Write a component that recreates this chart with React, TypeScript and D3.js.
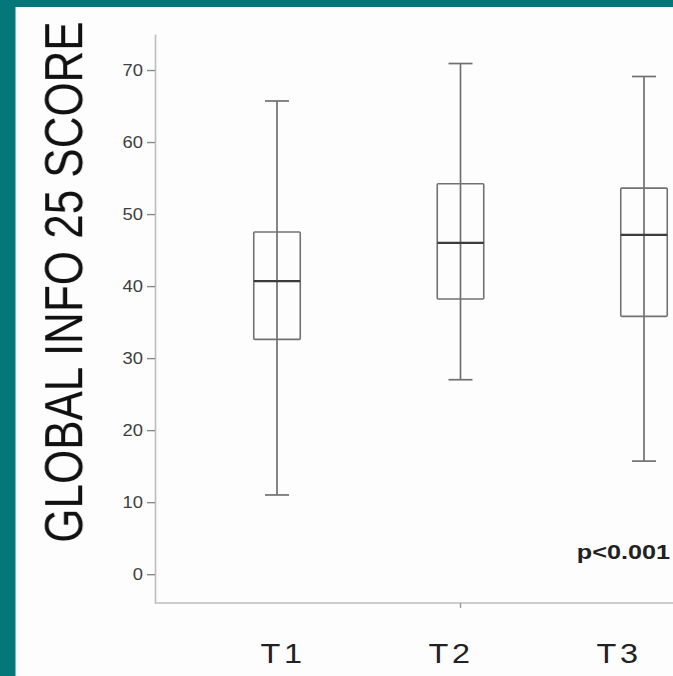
import React, { useEffect, useRef } from "react";
import { select, scaleLinear, scalePoint, axisLeft } from "d3";

const groups = ["T1", "T2", "T3"];
const mins = [11.0, 27.0, 15.7];
const q1s = [32.6, 38.2, 35.8];
const medians = [40.7, 46.0, 47.1];
const q3s = [47.5, 54.2, 53.6];
const maxs = [65.7, 70.9, 69.1];
const yTicks = [0, 10, 20, 30, 40, 50, 60, 70];

const W = 673;
const H = 676;

const App = () => {
  const svgRef = useRef<SVGSVGElement>(null);

  useEffect(() => {
    const svg = select(svgRef.current);
    svg.selectAll("*").remove();

    // teal frame + white panel
    svg.append("rect").attr("width", W).attr("height", H).attr("fill", "#03777a");
    svg.append("rect").attr("x", 15.5).attr("y", 7).attr("width", W).attr("height", H).attr("fill", "#fdfdfd");

    const yScale = scaleLinear().domain([-4, 75]).range([603, 34]);
    const xScale = scalePoint().domain(groups).range([277, 644]);
    const labelScale = scalePoint().domain(groups).range([283, 619]);
    const axisX = 155;

    const yAxis = axisLeft(yScale).tickValues(yTicks).tickSize(8).tickSizeOuter(0).tickPadding(4).tickFormat((d) => `${d}`);
    const gy = svg.append("g").attr("transform", `translate(${axisX},0)`).call(yAxis);
    gy.select(".domain").attr("stroke", "#bdbdbd").attr("stroke-width", 1.6);
    gy.selectAll(".tick line").attr("stroke", "#8a8a8a").attr("stroke-width", 1.4);
    gy.selectAll(".tick text")
      .attr("fill", "#3f3f3f")
      .attr("font-family", "Liberation Sans, Arial, sans-serif")
      .attr("font-size", 16)
      .attr("x", null)
      .attr("dy", "0.36em")
      .attr("transform", "translate(-12,0) scale(1.15,1)");

    // x axis line
    svg.append("line")
      .attr("x1", axisX).attr("x2", W)
      .attr("y1", yScale(-4)).attr("y2", yScale(-4))
      .attr("stroke", "#bdbdbd").attr("stroke-width", 1.6);
    svg.append("line")
      .attr("x1", xScale("T2")).attr("x2", xScale("T2"))
      .attr("y1", yScale(-4)).attr("y2", yScale(-4) + 5)
      .attr("stroke", "#999").attr("stroke-width", 1.4);

    const boxW = 46.5;
    const capW = 24;
    const g = svg.append("g");
    groups.forEach((name, i) => {
      const cx = xScale(name);
      g.append("line")
        .attr("x1", cx).attr("x2", cx)
        .attr("y1", yScale(mins[i])).attr("y2", yScale(maxs[i]))
        .attr("stroke", "#707070").attr("stroke-width", 1.7);
      [mins[i], maxs[i]].forEach((v) => {
        g.append("line")
          .attr("x1", cx - capW / 2).attr("x2", cx + capW / 2)
          .attr("y1", yScale(v)).attr("y2", yScale(v))
          .attr("stroke", "#707070").attr("stroke-width", 1.7);
      });
      g.append("rect")
        .attr("x", cx - boxW / 2).attr("y", yScale(q3s[i]))
        .attr("width", boxW).attr("height", yScale(q1s[i]) - yScale(q3s[i]))
        .attr("rx", 1)
        .attr("fill", "none").attr("stroke", "#727272").attr("stroke-width", 1.6);
      g.append("line")
        .attr("x1", cx - boxW / 2).attr("x2", cx + boxW / 2)
        .attr("y1", yScale(medians[i])).attr("y2", yScale(medians[i]))
        .attr("stroke", "#3c3c3c").attr("stroke-width", 2.2);
    });

    // category labels
    groups.forEach((name) => {
      svg.append("text")
        .attr("transform", `translate(${labelScale(name)},663) scale(1.2,1)`)
        .attr("text-anchor", "middle")
        .attr("font-family", "Liberation Sans, Arial, sans-serif")
        .attr("font-size", 27)
        .attr("letter-spacing", 3)
        .attr("fill", "#222")
        .text(name);
    });

    svg.append("text")
      .attr("transform", "translate(670,559) scale(1.2,1)")
      .attr("text-anchor", "end")
      .attr("font-family", "Liberation Sans, Arial, sans-serif")
      .attr("font-weight", "bold")
      .attr("font-size", 21)
      .attr("fill", "#222")
      .text("p<0.001");

    svg.append("text")
      .attr("transform", "translate(82,282) scale(1.2,1) rotate(-90)")
      .attr("text-anchor", "middle")
      .attr("font-family", "Liberation Sans, Arial, sans-serif")
      .attr("font-size", 44)
      .attr("fill", "#111")
      .text("GLOBAL INFO 25 SCORE");
  }, []);

  return (
    <svg
      ref={svgRef}
      width={W}
      height={H}
      style={{ position: "fixed", left: 0, top: 0, display: "block" }}
    />
  );
};

export default App;
